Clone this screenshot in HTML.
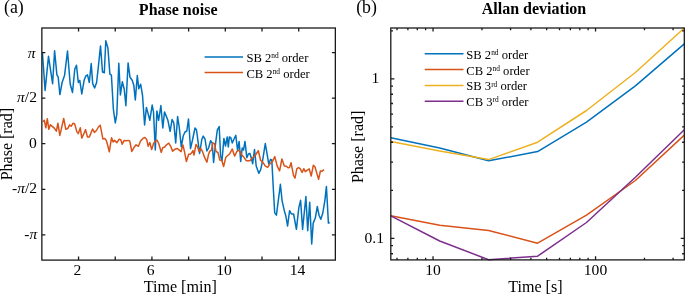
<!DOCTYPE html>
<html><head><meta charset="utf-8"><style>
html,body{margin:0;padding:0;background:#fff;overflow:hidden;}
svg{display:block;}
text{font-family:"Liberation Serif",serif;fill:#000;}
</style></head><body>
<div style="will-change:transform"><svg width="685" height="296" viewBox="0 0 685 296">
<rect width="685" height="296" fill="#fff"/>
<defs><clipPath id="cl"><rect x="41.9" y="28.0" width="293.5" height="232.1"/></clipPath>
<clipPath id="cr"><rect x="390.8" y="27.0" width="293.5" height="233.9"/></clipPath></defs>
<g clip-path="url(#cl)" fill="none" stroke-width="1.5" stroke-linejoin="round">
<polyline stroke="#0072BD" points="42.4,52.9 45.1,90.4 48.5,56.3 52.6,83.7 54.6,50.8 56.9,74.9 58.2,77.1 59.9,94.6 62.1,82.5 64.6,75.2 67.5,51.0 70.2,84.0 72.5,92.5 74.8,69.0 76.5,65.3 78.3,82.5 79.8,80.3 81.8,94.0 84.1,80.3 85.8,76.0 87.5,74.9 89.3,82.5 91.2,63.6 92.7,83.6 94.6,88.0 96.6,82.5 98.4,66.3 100.5,45.9 102.5,72.0 104.3,72.7 105.8,40.7 107.9,47.9 109.9,74.2 111.4,75.2 113.4,109.5 115.3,122.9 116.8,114.4 118.8,63.2 120.4,95.0 122.3,81.8 124.2,89.0 125.9,105.7 128.1,62.9 130.0,77.3 132.2,80.2 133.8,85.2 135.3,99.9 137.3,75.6 138.8,88.8 140.6,84.2 142.5,95.0 144.6,125.0 146.4,107.4 148.1,113.6 149.8,120.3 152.2,105.1 153.5,111.9 155.3,150.0 156.9,111.0 158.6,120.3 160.9,105.5 162.8,128.0 164.5,111.9 166.2,116.1 167.9,120.3 170.1,131.3 172.1,119.5 173.8,122.9 175.7,143.0 177.6,116.5 179.2,127.0 181.3,147.0 183.2,136.0 185.0,132.0 186.8,131.0 188.5,119.0 190.5,148.5 192.5,140.0 195.0,128.0 196.5,130.0 199.6,153.4 201.8,139.5 203.2,136.1 205.0,139.0 206.9,151.0 208.6,148.0 210.6,140.7 212.2,143.0 213.6,162.5 215.6,143.1 217.3,130.1 219.2,126.5 220.6,156.1 222.0,160.8 223.9,138.4 225.5,146.0 227.2,136.9 228.3,147.0 229.4,136.9 230.8,137.7 232.3,143.0 234.0,139.0 235.8,135.4 237.6,150.3 239.1,141.4 240.7,161.4 242.2,148.0 243.5,150.0 245.0,141.4 246.8,157.7 248.4,154.0 249.8,153.3 251.3,158.0 252.7,163.7 254.5,149.5 256.2,166.0 258.8,173.3 260.7,169.6 262.5,161.2 265.3,143.6 267.2,154.7 268.7,164.0 270.5,159.4 271.8,160.0 273.4,190.0 274.7,212.9 276.4,215.1 280.4,184.3 282.1,200.8 284.3,210.7 285.9,216.2 287.6,226.0 289.6,210.7 291.4,214.0 293.6,214.0 296.4,229.3 298.8,207.9 300.6,200.3 302.6,229.4 305.9,196.5 307.7,230.7 309.7,202.3 311.7,243.9 313.2,223.1 315.3,218.0 317.3,206.6 319.1,215.5 320.8,219.3 322.8,213.0 324.9,200.3 326.4,186.4 328.4,223.1 329.9,222.6"/>
<polyline stroke="#D95319" points="43.0,121.7 44.3,120.2 45.8,127.8 47.3,118.7 48.8,129.3 50.3,124.8 52.2,126.3 54.0,127.8 56.4,131.1 57.9,123.2 59.8,135.4 61.6,127.8 63.7,118.4 65.8,129.3 67.7,128.6 69.6,124.8 71.2,126.3 73.1,123.2 74.7,124.0 76.8,131.6 78.3,133.6 80.3,127.8 81.8,138.1 84.1,133.1 85.6,129.6 87.4,136.9 89.4,136.9 92.6,129.0 94.4,132.5 96.4,130.5 98.4,127.0 100.2,125.2 101.7,132.8 102.9,138.9 104.8,138.6 106.3,140.4 107.8,145.7 109.3,151.8 110.5,144.2 111.6,137.7 113.1,141.9 114.6,140.4 116.9,142.7 119.2,139.2 120.7,139.6 122.2,144.2 124.2,140.4 126.0,140.7 128.3,140.4 129.8,141.2 131.8,151.5 133.8,147.8 136.1,144.8 138.4,146.3 140.6,141.0 142.9,138.4 144.9,137.5 146.7,139.4 148.2,146.3 149.8,142.5 151.7,149.6 153.6,143.2 155.1,141.4 157.1,140.2 158.9,144.0 161.2,152.4 162.7,147.8 164.7,147.0 166.5,144.8 168.8,143.2 170.7,146.3 172.6,151.1 174.8,149.3 177.3,148.5 179.3,150.1 181.1,151.6 182.9,144.9 184.4,151.3 186.4,161.6 188.7,154.3 190.2,154.3 191.7,152.8 192.9,150.5 194.0,155.1 196.0,144.4 197.5,146.7 199.0,151.3 200.8,148.5 202.4,151.3 204.6,157.4 206.9,162.2 208.4,155.1 209.7,151.3 211.5,150.1 212.7,142.9 214.5,143.7 216.0,151.3 217.9,152.5 219.8,160.1 221.8,160.4 223.6,166.5 225.8,157.3 229.8,153.7 232.2,149.0 234.6,156.1 236.9,151.4 239.3,150.2 241.6,154.9 244.0,157.3 246.4,160.8 249.9,160.8 252.4,157.8 255.2,155.5 258.3,150.7 260.6,160.2 263.0,162.6 265.4,166.1 267.7,167.3 270.1,163.7 272.5,161.4 274.8,156.6 277.2,166.1 279.6,170.8 281.9,159.0 284.3,166.1 286.4,166.3 288.0,167.7 289.5,167.5 291.1,162.8 293.5,175.4 295.0,178.1 296.8,168.9 298.6,167.5 300.3,168.9 302.1,172.4 303.9,168.7 305.3,171.8 307.2,170.1 309.2,168.9 311.2,176.0 313.3,165.3 315.1,167.1 316.9,173.6 318.6,179.3 320.4,171.0 321.8,171.3 323.4,170.1 324.2,169.8"/>
</g>
<g clip-path="url(#cr)" fill="none" stroke-width="1.5" stroke-linejoin="round">
<polyline stroke="#0072BD" points="390.8,137.8 439.7,147.9 488.6,160.8 537.6,151.6 586.5,122.2 635.4,85.9 684.3,43.9"/>
<polyline stroke="#D95319" points="390.8,215.8 439.7,225.3 488.6,230.4 537.6,243.2 586.5,215.2 635.4,180.5 684.3,135.1"/>
<polyline stroke="#EDB120" points="390.8,141.5 439.7,150.9 488.6,159.6 537.6,142.2 586.5,110.5 635.4,72.5 684.3,28.0"/>
<polyline stroke="#7E2F8E" points="390.8,215.8 439.7,241.0 488.6,259.7 537.6,256.2 586.5,222.5 635.4,177.3 684.3,129.7"/>
</g>
<rect x="41.85" y="28.0" width="293.5" height="232.1" fill="none" stroke="#1a1a1a" stroke-width="1.3"/>
<rect x="390.8" y="28.0" width="293.5" height="231.9" fill="none" stroke="#1a1a1a" stroke-width="1.3"/>
<path d="M78.54 260.1v-3.5M78.54 28.0v3.5M115.24 260.1v-3.5M115.24 28.0v3.5M151.93 260.1v-3.5M151.93 28.0v3.5M188.62 260.1v-3.5M188.62 28.0v3.5M225.32 260.1v-3.5M225.32 28.0v3.5M262.01 260.1v-3.5M262.01 28.0v3.5M298.71 260.1v-3.5M298.71 28.0v3.5M41.85 234.86h3.5M335.4 234.86h-3.5M41.85 189.28h3.5M335.4 189.28h-3.5M41.85 143.70h3.5M335.4 143.70h-3.5M41.85 98.12h3.5M335.4 98.12h-3.5M41.85 52.54h3.5M335.4 52.54h-3.5M397.00 259.95v-2.2M397.00 28.0v2.2M407.88 259.95v-2.2M407.88 28.0v2.2M417.30 259.95v-2.2M417.30 28.0v2.2M425.61 259.95v-2.2M425.61 28.0v2.2M433.05 259.95v-3.6M433.05 28.0v3.6M481.97 259.95v-2.2M481.97 28.0v2.2M510.58 259.95v-2.2M510.58 28.0v2.2M530.88 259.95v-2.2M530.88 28.0v2.2M546.63 259.95v-2.2M546.63 28.0v2.2M559.50 259.95v-2.2M559.50 28.0v2.2M570.38 259.95v-2.2M570.38 28.0v2.2M579.80 259.95v-2.2M579.80 28.0v2.2M588.11 259.95v-2.2M588.11 28.0v2.2M595.55 259.95v-3.6M595.55 28.0v3.6M644.47 259.95v-2.2M644.47 28.0v2.2M673.08 259.95v-2.2M673.08 28.0v2.2M390.8 253.76h2.2M684.3 253.76h-2.2M390.8 245.60h2.2M684.3 245.60h-2.2M390.8 238.30h3.6M684.3 238.30h-3.6M390.8 190.29h2.2M684.3 190.29h-2.2M390.8 162.20h2.2M684.3 162.20h-2.2M390.8 142.27h2.2M684.3 142.27h-2.2M390.8 126.81h2.2M684.3 126.81h-2.2M390.8 114.18h2.2M684.3 114.18h-2.2M390.8 103.51h2.2M684.3 103.51h-2.2M390.8 94.26h2.2M684.3 94.26h-2.2M390.8 86.10h2.2M684.3 86.10h-2.2M390.8 78.80h3.6M684.3 78.80h-3.6M390.8 30.79h2.2M684.3 30.79h-2.2" stroke="#1a1a1a" stroke-width="1.3" fill="none"/>
<text x="178.2" y="14.7" font-size="16" text-anchor="middle" font-weight="bold" >Phase noise</text>
<text x="534.0" y="13.85" font-size="16" text-anchor="middle" font-weight="bold" >Allan deviation</text>
<text x="4.0" y="13.2" font-size="17.8" text-anchor="start" font-weight="normal" >(a)</text>
<text x="356.2" y="13.3" font-size="17.8" text-anchor="start" font-weight="normal" >(b)</text>
<text x="180.3" y="292.3" font-size="16.1" text-anchor="middle" font-weight="normal" >Time [min]</text>
<text x="535.4" y="292.3" font-size="16.1" text-anchor="middle" font-weight="normal" >Time [s]</text>
<text x="0" y="0" font-size="16" text-anchor="middle" transform="translate(12.2,144.1) rotate(-90)">Phase [rad]</text>
<text x="0" y="0" font-size="16" text-anchor="middle" transform="translate(363.2,146.9) rotate(-90)">Phase [rad]</text>
<text x="77.3" y="275.0" font-size="15.6" text-anchor="middle" font-weight="normal" >2</text>
<text x="150.7" y="275.0" font-size="15.6" text-anchor="middle" font-weight="normal" >6</text>
<text x="224.1" y="275.0" font-size="15.6" text-anchor="middle" font-weight="normal" >10</text>
<text x="297.5" y="275.0" font-size="15.6" text-anchor="middle" font-weight="normal" >14</text>
<text x="35.4" y="57.6" font-size="15.6" text-anchor="end" font-weight="normal" ><tspan font-style="italic" font-size="15.5">π</tspan></text>
<text x="37.0" y="102.2" font-size="15.6" text-anchor="end" font-weight="normal" ><tspan font-style="italic" font-size="15.5">π</tspan>/2</text>
<text x="36.9" y="147.8" font-size="15.6" text-anchor="end" font-weight="normal" >0</text>
<text x="37.1" y="193.2" font-size="15.6" text-anchor="end" font-weight="normal" >-<tspan font-style="italic" font-size="15.5">π</tspan>/2</text>
<text x="37.3" y="238.9" font-size="15.6" text-anchor="end" font-weight="normal" >-<tspan font-style="italic" font-size="15.5">π</tspan></text>
<text x="433.1" y="275.0" font-size="15.6" text-anchor="middle" font-weight="normal" >10</text>
<text x="595.5" y="275.0" font-size="15.6" text-anchor="middle" font-weight="normal" >100</text>
<text x="379.2" y="82.7" font-size="15.6" text-anchor="end" font-weight="normal" >1</text>
<text x="384.0" y="242.6" font-size="15.6" text-anchor="end" font-weight="normal" >0.1</text>
<line x1="204.6" y1="56.9" x2="243.0" y2="56.9" stroke="#0072BD" stroke-width="1.5"/>
<text x="246.4" y="62.2" font-size="12.6">SB 2<tspan font-size="7.4" dy="-3.9">nd</tspan><tspan dy="3.9"> order</tspan></text>
<line x1="204.6" y1="72.6" x2="243.0" y2="72.6" stroke="#D95319" stroke-width="1.5"/>
<text x="246.4" y="77.8" font-size="12.6">CB 2<tspan font-size="7.4" dy="-3.9">nd</tspan><tspan dy="3.9"> order</tspan></text>
<line x1="424.7" y1="53.8" x2="463.5" y2="53.8" stroke="#0072BD" stroke-width="1.5"/>
<text x="466.3" y="58.8" font-size="12.6">SB 2<tspan font-size="7.4" dy="-3.9">nd</tspan><tspan dy="3.9"> order</tspan></text>
<line x1="424.7" y1="69.6" x2="463.5" y2="69.6" stroke="#D95319" stroke-width="1.5"/>
<text x="466.3" y="74.6" font-size="12.6">CB 2<tspan font-size="7.4" dy="-3.9">nd</tspan><tspan dy="3.9"> order</tspan></text>
<line x1="424.7" y1="85.6" x2="463.5" y2="85.6" stroke="#EDB120" stroke-width="1.5"/>
<text x="466.3" y="90.4" font-size="12.6">SB 3<tspan font-size="7.4" dy="-3.9">rd</tspan><tspan dy="3.9"> order</tspan></text>
<line x1="424.7" y1="101.2" x2="463.5" y2="101.2" stroke="#7E2F8E" stroke-width="1.5"/>
<text x="466.3" y="106.0" font-size="12.6">CB 3<tspan font-size="7.4" dy="-3.9">rd</tspan><tspan dy="3.9"> order</tspan></text>
</svg></div>
</body></html>
